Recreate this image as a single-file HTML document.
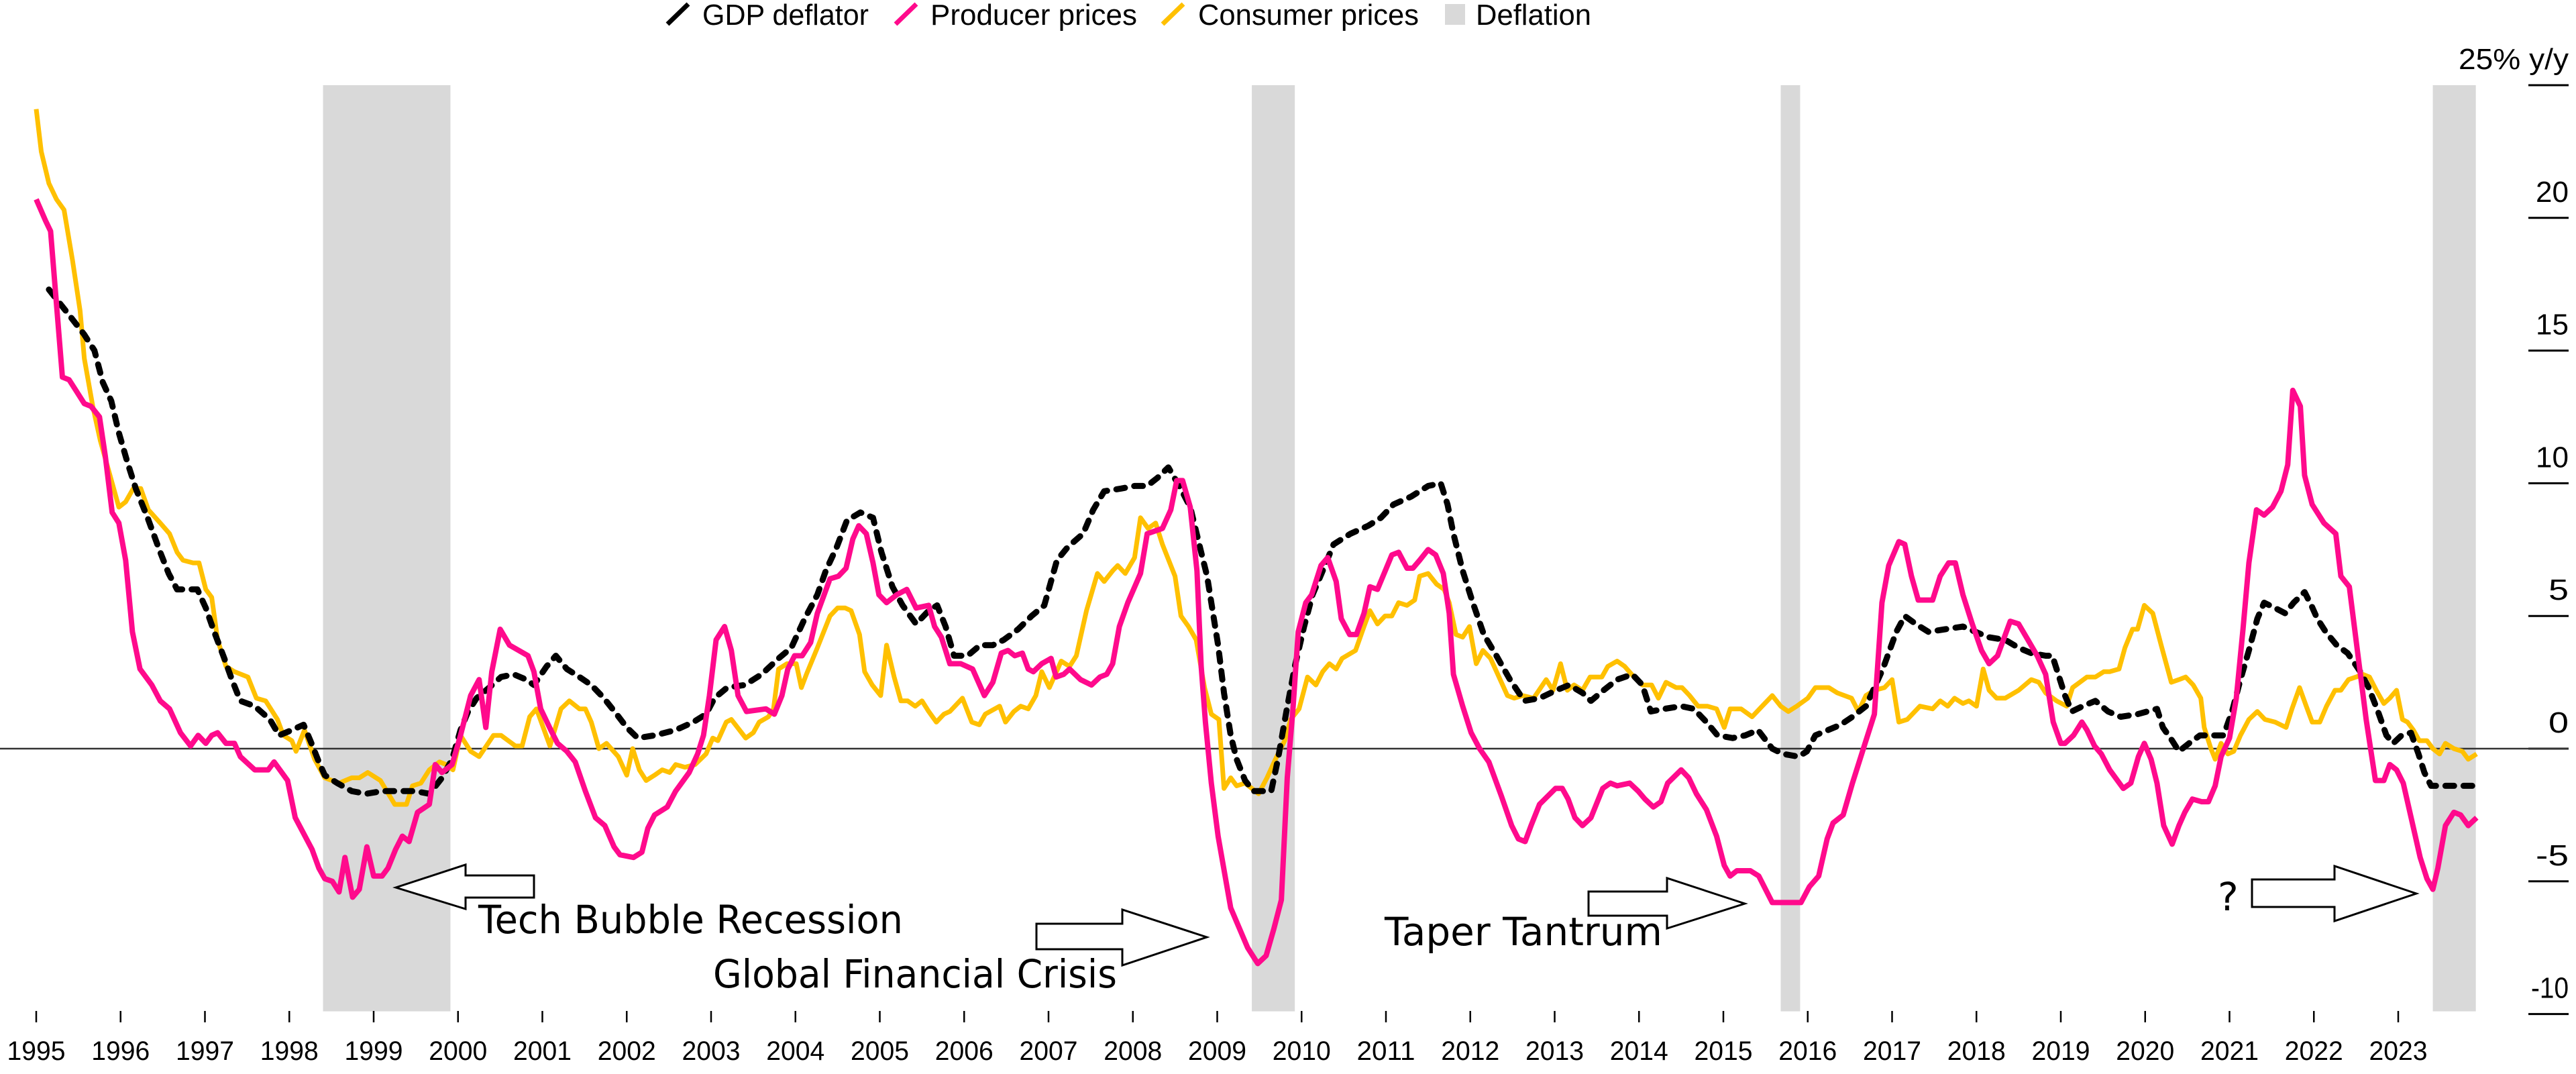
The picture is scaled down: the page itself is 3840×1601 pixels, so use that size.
<!DOCTYPE html>
<html><head><meta charset="utf-8"><style>
html,body{margin:0;padding:0;background:#fff;}
svg{display:block;}
</style></head><body>
<svg id="chart" width="3840" height="1601" viewBox="0 0 3840 1601" xmlns="http://www.w3.org/2000/svg">
<g id="bands"></g>
<g id="grid"></g>
<g id="xaxis"></g>
<g id="series"></g>
<g font-family="Liberation Sans, sans-serif" font-size="44" fill="#000">
 <g><line x1="995" y1="36" x2="1026" y2="6" stroke="#000" stroke-width="7"/><text x="1047" y="37" textLength="248" lengthAdjust="spacingAndGlyphs">GDP deflator</text></g>
 <g><line x1="1335" y1="36" x2="1366" y2="6" stroke="#ff0a8c" stroke-width="7"/><text x="1387" y="37" textLength="308" lengthAdjust="spacingAndGlyphs">Producer prices</text></g>
 <g><line x1="1733" y1="36" x2="1764" y2="6" stroke="#ffc000" stroke-width="7"/><text x="1786" y="37" textLength="329" lengthAdjust="spacingAndGlyphs">Consumer prices</text></g>
 <g><rect x="2154" y="6" width="30" height="31" fill="#d9d9d9"/><text x="2200" y="37" textLength="172" lengthAdjust="spacingAndGlyphs">Deflation</text></g>
</g>
<g font-family="DejaVu Sans, sans-serif" font-size="58" fill="#000">
 <polygon points="590,1323 694,1289 694,1305 796,1305 796,1338 694,1338 694,1355" fill="#fff" stroke="#000" stroke-width="3"/>
 <polygon points="1799,1397 1673,1356 1673,1377 1545,1377 1545,1415 1673,1415 1673,1439" fill="#fff" stroke="#000" stroke-width="3"/>
 <polygon points="2601,1347 2485,1309 2485,1329 2368,1329 2368,1365 2485,1365 2485,1384" fill="#fff" stroke="#000" stroke-width="3"/>
 <polygon points="3602,1332 3480,1291 3480,1311 3357,1311 3357,1352 3480,1352 3480,1373" fill="#fff" stroke="#000" stroke-width="3"/>
 <text x="713" y="1391" textLength="633" lengthAdjust="spacingAndGlyphs">Tech Bubble Recession</text>
 <text x="1063" y="1472" textLength="602" lengthAdjust="spacingAndGlyphs">Global Financial Crisis</text>
 <text x="2064" y="1409" textLength="414" lengthAdjust="spacingAndGlyphs">Taper Tantrum</text>
 <text x="3306" y="1357">?</text>
</g>
</svg>
<script>
const bandStarts=[1998.40,2009.41,2015.68,2023.41];
const bandEnds=[1999.91,2009.92,2015.91,2023.92];
const yTicks=[25,20,15,10,5,0,-5,-10];
const yTickLabels=["25% y/y","20","15","10","5","0","-5","-10"];
const xYears=[1995,1996,1997,1998,1999,2000,2001,2002,2003,2004,2005,2006,2007,2008,2009,2010,2011,2012,2013,2014,2015,2016,2017,2018,2019,2020,2021,2022,2023];

const ppiYears=[1995.00,1995.11,1995.17,1995.31,1995.39,1995.47,1995.57,1995.65,1995.75,1995.82,1995.90,1995.98,1996.06,1996.14,1996.23,1996.37,1996.47,1996.58,1996.71,1996.83,1996.92,1997.01,1997.08,1997.15,1997.25,1997.35,1997.42,1997.59,1997.75,1997.82,1997.98,1998.07,1998.27,1998.35,1998.42,1998.51,1998.59,1998.66,1998.75,1998.83,1998.92,1999.00,1999.10,1999.17,1999.26,1999.34,1999.42,1999.52,1999.66,1999.73,1999.81,1999.93,2000.03,2000.15,2000.25,2000.33,2000.40,2000.50,2000.61,2000.83,2000.90,2000.98,2001.10,2001.18,2001.29,2001.39,2001.51,2001.63,2001.74,2001.85,2001.92,2002.08,2002.18,2002.25,2002.33,2002.48,2002.58,2002.74,2002.84,2002.91,2002.98,2003.06,2003.16,2003.24,2003.32,2003.42,2003.65,2003.75,2003.84,2003.91,2003.99,2004.08,2004.18,2004.26,2004.41,2004.51,2004.60,2004.68,2004.75,2004.84,2004.92,2004.99,2005.08,2005.20,2005.32,2005.43,2005.58,2005.65,2005.73,2005.83,2005.96,2006.10,2006.24,2006.34,2006.44,2006.52,2006.60,2006.69,2006.76,2006.82,2006.92,2007.03,2007.09,2007.18,2007.25,2007.38,2007.51,2007.61,2007.69,2007.76,2007.84,2007.94,2008.09,2008.17,2008.35,2008.45,2008.52,2008.59,2008.68,2008.76,2008.81,2008.86,2008.93,2009.01,2009.16,2009.36,2009.48,2009.58,2009.67,2009.76,2009.83,2009.90,2009.96,2010.05,2010.12,2010.23,2010.31,2010.41,2010.47,2010.57,2010.65,2010.74,2010.81,2010.90,2011.07,2011.15,2011.25,2011.32,2011.40,2011.50,2011.59,2011.68,2011.75,2011.80,2011.91,2012.01,2012.11,2012.22,2012.37,2012.49,2012.57,2012.65,2012.72,2012.82,2013.01,2013.09,2013.16,2013.24,2013.33,2013.43,2013.57,2013.66,2013.74,2013.89,2013.99,2014.07,2014.17,2014.26,2014.34,2014.50,2014.59,2014.68,2014.80,2014.92,2015.01,2015.08,2015.16,2015.32,2015.42,2015.58,2015.92,2016.02,2016.13,2016.23,2016.30,2016.42,2016.53,2016.66,2016.79,2016.88,2016.96,2017.08,2017.15,2017.23,2017.31,2017.48,2017.57,2017.67,2017.75,2017.84,2017.95,2018.06,2018.15,2018.25,2018.40,2018.50,2018.61,2018.72,2018.82,2018.91,2019.00,2019.05,2019.15,2019.25,2019.31,2019.40,2019.48,2019.58,2019.74,2019.83,2019.92,2019.99,2020.07,2020.14,2020.22,2020.32,2020.40,2020.47,2020.56,2020.67,2020.75,2020.83,2020.90,2021.00,2021.08,2021.16,2021.23,2021.32,2021.41,2021.51,2021.61,2021.69,2021.75,2021.84,2021.89,2021.98,2022.12,2022.26,2022.32,2022.42,2022.52,2022.62,2022.73,2022.83,2022.90,2022.98,2023.06,2023.16,2023.26,2023.34,2023.41,2023.47,2023.56,2023.66,2023.74,2023.83,2023.93];
const ppiVals=[20.7,19.9,19.5,14.0,13.9,13.5,13.0,12.9,12.5,11.0,8.9,8.5,7.1,4.4,3.0,2.4,1.8,1.5,0.6,0.1,0.5,0.2,0.5,0.6,0.2,0.2,-0.3,-0.8,-0.8,-0.5,-1.2,-2.6,-3.8,-4.5,-4.9,-5.0,-5.4,-4.1,-5.6,-5.3,-3.7,-4.8,-4.8,-4.5,-3.8,-3.3,-3.5,-2.4,-2.1,-0.6,-0.9,-0.6,0.5,2.0,2.6,0.8,2.9,4.5,3.9,3.5,2.9,1.5,0.7,0.2,-0.1,-0.5,-1.6,-2.6,-2.9,-3.7,-4.0,-4.1,-3.9,-3.0,-2.5,-2.2,-1.6,-0.9,-0.2,0.5,2.0,4.1,4.6,3.7,2.0,1.4,1.5,1.3,2.0,3.0,3.5,3.5,4.0,5.1,6.4,6.5,6.8,7.9,8.4,8.1,7.0,5.8,5.5,5.8,6.0,5.3,5.4,4.6,4.2,3.2,3.2,3.0,2.0,2.5,3.6,3.7,3.5,3.6,3.0,2.9,3.2,3.4,2.7,2.8,3.0,2.6,2.4,2.7,2.8,3.2,4.6,5.5,6.6,8.1,8.3,9.0,10.1,10.1,9.1,6.7,3.1,1.0,-1.3,-3.3,-6.0,-7.5,-8.1,-7.8,-6.8,-5.7,-1.1,1.6,4.4,5.5,5.8,6.9,7.2,6.3,4.9,4.3,4.3,5.1,6.1,6.0,7.3,7.4,6.8,6.8,7.1,7.5,7.3,6.6,5.1,2.8,1.6,0.6,0.0,-0.5,-1.8,-2.9,-3.4,-3.5,-2.9,-2.1,-1.5,-1.5,-1.9,-2.6,-2.9,-2.6,-1.5,-1.3,-1.4,-1.3,-1.6,-1.9,-2.2,-2.0,-1.3,-0.8,-1.1,-1.7,-2.3,-3.3,-4.4,-4.8,-4.6,-4.6,-4.8,-5.8,-5.8,-5.2,-4.8,-3.4,-2.8,-2.5,-1.3,0.0,1.3,5.5,6.9,7.8,7.7,6.5,5.6,5.6,6.5,7.0,7.0,5.8,4.7,3.7,3.2,3.5,4.8,4.7,4.1,3.5,2.8,1.0,0.2,0.2,0.5,1.0,0.7,0.1,-0.2,-0.8,-1.5,-1.3,-0.3,0.2,-0.4,-1.3,-2.9,-3.6,-2.9,-2.4,-1.9,-2.0,-2.0,-1.4,-0.3,0.4,1.9,4.5,7.0,9.0,8.8,9.1,9.7,10.7,13.5,12.9,10.3,9.2,8.5,8.1,6.5,6.1,3.6,1.1,-1.2,-1.2,-0.6,-0.8,-1.3,-2.7,-4.1,-4.9,-5.3,-4.5,-2.9,-2.4,-2.5,-2.9,-2.6];

const cpiYears=[1995.00,1995.06,1995.15,1995.24,1995.33,1995.43,1995.52,1995.57,1995.67,1995.76,1995.91,1995.98,1996.06,1996.15,1996.24,1996.33,1996.47,1996.58,1996.67,1996.74,1996.86,1996.93,1997.01,1997.08,1997.15,1997.25,1997.35,1997.51,1997.61,1997.72,1997.86,1997.93,1998.03,1998.08,1998.18,1998.30,1998.42,1998.59,1998.74,1998.83,1998.93,1999.08,1999.25,1999.39,1999.46,1999.56,1999.66,1999.78,1999.86,1999.94,2000.03,2000.15,2000.25,2000.42,2000.51,2000.68,2000.76,2000.85,2000.93,2001.09,2001.22,2001.32,2001.44,2001.51,2001.58,2001.67,2001.76,2001.90,2002.00,2002.07,2002.15,2002.23,2002.33,2002.42,2002.51,2002.58,2002.69,2002.81,2002.94,2003.02,2003.08,2003.18,2003.24,2003.41,2003.50,2003.57,2003.68,2003.74,2003.80,2003.90,2004.01,2004.07,2004.13,2004.26,2004.41,2004.50,2004.59,2004.66,2004.76,2004.82,2004.91,2005.01,2005.08,2005.17,2005.25,2005.33,2005.42,2005.50,2005.58,2005.67,2005.76,2005.83,2005.98,2006.09,2006.18,2006.25,2006.42,2006.49,2006.59,2006.67,2006.76,2006.85,2006.92,2007.01,2007.15,2007.25,2007.33,2007.45,2007.58,2007.66,2007.76,2007.82,2007.91,2008.02,2008.09,2008.18,2008.27,2008.35,2008.50,2008.57,2008.66,2008.75,2008.85,2008.93,2009.02,2009.08,2009.16,2009.23,2009.33,2009.49,2009.59,2009.69,2009.80,2009.87,2009.97,2010.07,2010.17,2010.25,2010.33,2010.41,2010.48,2010.64,2010.74,2010.81,2010.90,2010.99,2011.07,2011.15,2011.25,2011.34,2011.40,2011.50,2011.60,2011.69,2011.75,2011.83,2011.91,2011.99,2012.07,2012.15,2012.24,2012.34,2012.44,2012.52,2012.62,2012.75,2012.90,2012.98,2013.07,2013.15,2013.23,2013.33,2013.42,2013.56,2013.63,2013.74,2013.83,2013.94,2014.04,2014.15,2014.23,2014.32,2014.44,2014.51,2014.60,2014.70,2014.81,2014.92,2015.01,2015.08,2015.21,2015.34,2015.46,2015.58,2015.68,2015.77,2015.87,2016.00,2016.09,2016.25,2016.35,2016.52,2016.60,2016.69,2016.79,2016.91,2017.00,2017.08,2017.18,2017.33,2017.48,2017.57,2017.66,2017.74,2017.84,2017.91,2018.00,2018.08,2018.15,2018.24,2018.34,2018.50,2018.65,2018.74,2018.82,2018.95,2019.07,2019.14,2019.31,2019.41,2019.51,2019.58,2019.69,2019.76,2019.85,2019.91,2019.99,2020.09,2020.19,2020.31,2020.40,2020.48,2020.57,2020.66,2020.70,2020.78,2020.83,2020.90,2020.98,2021.05,2021.13,2021.23,2021.33,2021.42,2021.54,2021.67,2021.74,2021.83,2021.91,2021.98,2022.07,2022.15,2022.25,2022.32,2022.41,2022.50,2022.58,2022.66,2022.74,2022.83,2022.90,2022.98,2023.05,2023.11,2023.18,2023.25,2023.34,2023.41,2023.49,2023.56,2023.66,2023.76,2023.83,2023.93];
const cpiVals=[24.1,22.5,21.3,20.7,20.3,18.4,16.5,14.7,12.9,11.6,9.9,9.1,9.3,9.8,9.8,9.0,8.5,8.1,7.4,7.1,7.0,7.0,6.0,5.7,4.1,3.1,2.9,2.7,1.9,1.8,1.1,0.5,0.3,-0.1,0.7,-0.4,-1.1,-1.3,-1.1,-1.1,-0.9,-1.2,-2.1,-2.1,-1.4,-1.3,-0.8,-0.5,-0.6,-0.8,0.5,-0.1,-0.3,0.5,0.5,0.1,0.1,1.2,1.5,0.1,1.5,1.8,1.5,1.5,1.0,0.0,0.2,-0.3,-1.0,0.0,-0.8,-1.2,-1.0,-0.8,-0.9,-0.6,-0.7,-0.6,-0.2,0.4,0.3,1.0,1.1,0.4,0.6,1.0,1.2,1.5,3.0,3.2,3.2,2.3,2.8,3.8,5.0,5.3,5.3,5.2,4.3,2.9,2.4,2.0,3.9,2.7,1.8,1.8,1.6,1.8,1.4,1.0,1.3,1.4,1.9,1.0,0.9,1.3,1.6,1.0,1.4,1.6,1.5,2.0,2.9,2.3,3.3,3.1,3.5,5.2,6.6,6.3,6.7,6.9,6.6,7.2,8.7,8.3,8.5,7.7,6.5,5.0,4.6,4.1,2.3,1.3,1.1,-1.5,-1.1,-1.4,-1.3,-1.7,-1.1,-0.4,0.3,1.1,1.5,2.7,2.4,2.9,3.2,3.0,3.4,3.7,4.6,5.2,4.7,5.0,5.0,5.5,5.4,5.6,6.5,6.6,6.2,6.0,5.5,4.3,4.2,4.6,3.2,3.7,3.4,2.7,2.0,1.9,2.0,1.9,2.6,2.2,3.2,2.2,2.4,2.2,2.7,2.7,3.1,3.3,3.1,2.7,2.4,2.4,1.9,2.5,2.3,2.3,2.0,1.6,1.6,1.5,0.8,1.5,1.5,1.2,1.6,2.0,1.6,1.4,1.6,1.9,2.3,2.3,2.1,1.9,1.4,2.0,2.2,2.3,2.6,1.0,1.1,1.6,1.5,1.8,1.6,1.9,1.7,1.8,1.6,3.0,2.2,1.9,1.9,2.2,2.6,2.5,2.1,1.8,1.6,2.3,2.7,2.7,2.9,2.9,3.0,3.8,4.5,4.5,5.4,5.1,3.9,2.5,2.6,2.7,2.4,1.9,0.8,0.0,-0.4,0.2,-0.2,-0.1,0.5,1.1,1.4,1.1,1.0,0.8,1.5,2.3,1.6,1.0,1.0,1.6,2.2,2.2,2.6,2.7,2.8,2.7,2.2,1.7,1.9,2.2,1.1,1.0,0.7,0.3,0.3,0.0,-0.2,0.2,0.0,-0.1,-0.4,-0.2];

const gdpYears=[1995.15,1995.25,1995.40,1995.57,1995.69,1995.79,1995.89,1995.98,1996.08,1996.18,1996.32,1996.47,1996.57,1996.67,1996.91,1997.01,1997.11,1997.23,1997.32,1997.42,1997.59,1997.77,1997.88,1998.03,1998.17,1998.25,1998.35,1998.42,1998.57,1998.74,1998.91,1999.10,1999.30,1999.49,1999.66,1999.81,1999.93,2000.03,2000.12,2000.22,2000.37,2000.51,2000.66,2000.81,2000.90,2001.05,2001.16,2001.29,2001.44,2001.58,2001.73,2001.88,2002.00,2002.13,2002.33,2002.58,2002.79,2002.94,2003.04,2003.19,2003.40,2003.60,2003.80,2003.95,2004.11,2004.26,2004.36,2004.49,2004.61,2004.77,2004.92,2005.02,2005.15,2005.27,2005.43,2005.58,2005.68,2005.78,2005.88,2006.04,2006.19,2006.34,2006.47,2006.64,2006.80,2006.95,2007.10,2007.23,2007.41,2007.53,2007.66,2007.86,2008.02,2008.17,2008.29,2008.42,2008.55,2008.68,2008.81,2008.88,2008.93,2009.01,2009.08,2009.16,2009.23,2009.33,2009.43,2009.54,2009.64,2009.72,2009.82,2009.92,2010.03,2010.13,2010.25,2010.38,2010.58,2010.79,2010.94,2011.09,2011.30,2011.50,2011.65,2011.73,2011.80,2011.91,2012.03,2012.16,2012.31,2012.47,2012.64,2012.82,2013.02,2013.17,2013.33,2013.43,2013.58,2013.74,2013.92,2014.04,2014.14,2014.30,2014.50,2014.65,2014.80,2014.93,2015.11,2015.26,2015.41,2015.58,2015.71,2015.89,2015.99,2016.09,2016.24,2016.39,2016.53,2016.69,2016.79,2016.89,2017.05,2017.15,2017.28,2017.43,2017.63,2017.84,2017.99,2018.14,2018.34,2018.50,2018.65,2018.82,2018.90,2018.98,2019.05,2019.13,2019.26,2019.41,2019.56,2019.71,2019.91,2020.14,2020.21,2020.32,2020.40,2020.52,2020.65,2020.80,2020.93,2021.03,2021.13,2021.23,2021.33,2021.41,2021.54,2021.66,2021.76,2021.89,2021.97,2022.04,2022.14,2022.27,2022.40,2022.55,2022.65,2022.76,2022.86,2022.94,2023.04,2023.15,2023.24,2023.31,2023.39,2023.56,2023.76,2023.93];
const gdpVals=[17.3,16.9,16.3,15.6,15.0,13.8,13.1,11.9,10.8,9.8,8.7,7.4,6.6,6.0,6.0,5.3,4.4,3.4,2.6,1.8,1.6,1.1,0.5,0.7,0.9,0.3,-0.5,-1.0,-1.3,-1.6,-1.7,-1.6,-1.6,-1.6,-1.7,-1.1,-0.4,0.7,1.4,1.9,2.3,2.7,2.8,2.6,2.4,3.1,3.5,3.0,2.7,2.4,1.9,1.3,0.8,0.4,0.5,0.7,1.0,1.3,1.9,2.3,2.4,2.8,3.4,3.8,4.9,5.8,6.7,7.6,8.6,8.9,8.7,7.4,6.1,5.4,4.7,5.2,5.4,4.6,3.5,3.5,3.9,3.9,4.1,4.5,5.0,5.4,7.1,7.6,8.1,9.0,9.7,9.8,9.9,9.9,10.2,10.6,9.9,9.1,7.4,6.5,5.5,3.9,2.1,0.5,-0.4,-1.2,-1.6,-1.6,-1.6,-0.4,1.4,3.1,4.6,5.8,6.7,7.7,8.1,8.4,8.7,9.2,9.5,9.9,10.0,9.2,8.1,6.7,5.5,4.3,3.5,2.6,1.8,1.9,2.2,2.4,2.1,1.8,2.2,2.6,2.8,2.4,1.4,1.5,1.6,1.5,1.0,0.5,0.4,0.5,0.7,0.0,-0.2,-0.3,-0.1,0.5,0.7,0.9,1.2,1.6,2.3,3.0,4.4,5.0,4.7,4.4,4.5,4.6,4.4,4.2,4.1,3.8,3.6,3.5,3.5,2.7,2.0,1.4,1.6,1.8,1.4,1.2,1.3,1.5,0.8,0.3,-0.1,0.2,0.5,0.5,0.5,1.4,2.6,3.7,4.9,5.5,5.3,5.1,5.5,5.9,5.4,4.9,4.4,3.9,3.6,2.9,2.3,1.4,0.5,0.2,0.5,0.6,-0.2,-0.9,-1.4,-1.4,-1.4,-1.4];

const NS='http://www.w3.org/2000/svg';
function xScale(yr){return 54+125.75*(yr-1995);}
function yScale(v){return 1116-39.56*v;}
function mk(tag,attrs,parent){const e=document.createElementNS(NS,tag);for(const k in attrs)e.setAttribute(k,attrs[k]);parent.appendChild(e);return e;}

const bandsG=document.getElementById('bands');
bandStarts.forEach((s,i)=>{
  const r=mk('rect',{x:xScale(s),y:yScale(25),width:xScale(bandEnds[i])-xScale(s),height:yScale(-10)-yScale(25)-4,fill:'#d9d9d9'},bandsG);
  
  
});

const gridG=document.getElementById('grid');
yTicks.forEach((v,i)=>{
  const ln=mk('line',{x1:3769,x2:3829,y1:yScale(v),y2:yScale(v),stroke:'#000','stroke-width':3},gridG);
  
  
  const t=mk('text',{x:3829,y:yScale(v)-24,'text-anchor':'end','font-family':'Liberation Sans, sans-serif','font-size':44,fill:'#000'},gridG);
  t.textContent=yTickLabels[i];
  const w=i===0?164:(yTickLabels[i].length===1?30:(yTickLabels[i].length===2?49:56));
  t.setAttribute('textLength',w);
  t.setAttribute('lengthAdjust','spacingAndGlyphs');
  
  
});
const zl=mk('line',{x1:0,x2:3829,y1:yScale(0),y2:yScale(0),stroke:'#333','stroke-width':2.5},gridG);



const xG=document.getElementById('xaxis');
xYears.forEach(yr=>{
  const tk=mk('line',{x1:xScale(yr),x2:xScale(yr),y1:1507,y2:1524,stroke:'#000','stroke-width':2.5},xG);
  
  
  const t=mk('text',{x:xScale(yr),y:1580,'text-anchor':'middle','font-family':'Liberation Sans, sans-serif','font-size':40,fill:'#000',textLength:87,lengthAdjust:'spacingAndGlyphs'},xG);
  t.textContent=String(yr);
  
  
});

const sG=document.getElementById('series');
function pathFrom(xs,vs){return xs.map((y,i)=>(i?'L':'M')+xScale(y).toFixed(1)+','+yScale(vs[i]).toFixed(1)).join(' ');}
const cpi=mk('path',{d:pathFrom(cpiYears,cpiVals),fill:'none',stroke:'#ffc000','stroke-width':7,'stroke-linejoin':'round'},sG);


const gdp=mk('path',{d:pathFrom(gdpYears,gdpVals),fill:'none',stroke:'#000','stroke-width':9,'stroke-dasharray':'13 14','stroke-linecap':'round','stroke-linejoin':'round'},sG);


const ppi=mk('path',{d:pathFrom(ppiYears,ppiVals),fill:'none',stroke:'#ff0a8c','stroke-width':8,'stroke-linejoin':'round'},sG);


</script>
</body></html>
